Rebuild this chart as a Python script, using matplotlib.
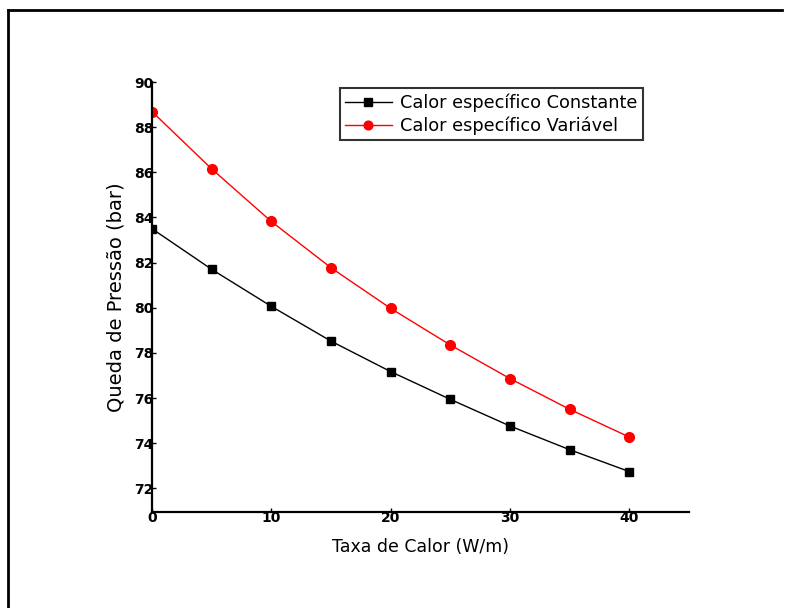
import matplotlib
matplotlib.use("Agg")
import matplotlib.pyplot as plt
from matplotlib.lines import Line2D

plt.rcParams['font.family'] = ['DejaVu Sans']

# data
taxa = [0, 5, 10, 15, 20, 25, 30, 35, 40]
cp_constante = [83.5, 81.7, 80.06, 78.52, 77.17, 75.94, 74.76, 73.71, 72.74]
cp_variavel = [88.69, 86.15, 83.82, 81.77, 79.97, 78.35, 76.86, 75.5, 74.27]
y_ticks = [72, 74, 76, 78, 80, 82, 84, 86, 88, 90]
x_ticks = [0, 10, 20, 30, 40]

fig = plt.figure(figsize=(7.91, 6.08), dpi=100)
ax = fig.add_axes([152 / 791, 1 - 512 / 608, (689 - 152) / 791, (512 - 82) / 608])

ax.plot(taxa, cp_constante, color='black', lw=1, marker='s', ms=6,
        label='Calor específico Constante')
ax.plot(taxa, cp_variavel, color='red', lw=1, marker='o', ms=7,
        label='Calor específico Variável')

ax.set_xlim(0, 45)
ax.set_ylim(70.95, 89.78)
ax.set_xticks(x_ticks)
ax.set_yticks(y_ticks)
ax.tick_params(direction='in', length=3, width=1, labelsize=10, pad=-1)
for s in ('top', 'right'):
    ax.spines[s].set_visible(False)
for s in ('left', 'bottom'):
    ax.spines[s].set_linewidth(1.6)
for lbl in ax.get_yticklabels() + ax.get_xticklabels():
    lbl.set_fontweight('bold')

ax.set_xlabel('Taxa de Calor (W/m)', fontsize=12.5, labelpad=10)
ax.set_ylabel('Queda de Pressão (bar)', fontsize=14, labelpad=6)

leg = ax.legend(loc='upper left', bbox_to_anchor=((340 - 152) / 537, 1 - (88 - 82) / 430),
                frameon=True, fancybox=False, edgecolor='black', fontsize=12.8,
                handlelength=2.6, borderpad=0.3, labelspacing=0.25, borderaxespad=0,
                handletextpad=0.5, markerscale=0.9)
leg.get_frame().set_linewidth(1.5)

# partial frame around the figure (top and left only)
fig.add_artist(Line2D([8 / 791, 782 / 791], [1 - 10 / 608, 1 - 10 / 608],
                      color='black', lw=2, transform=fig.transFigure))
fig.add_artist(Line2D([8 / 791, 8 / 791], [1 - 10 / 608, 0],
                      color='black', lw=2, transform=fig.transFigure))

fig.savefig('out.png', dpi=100)
